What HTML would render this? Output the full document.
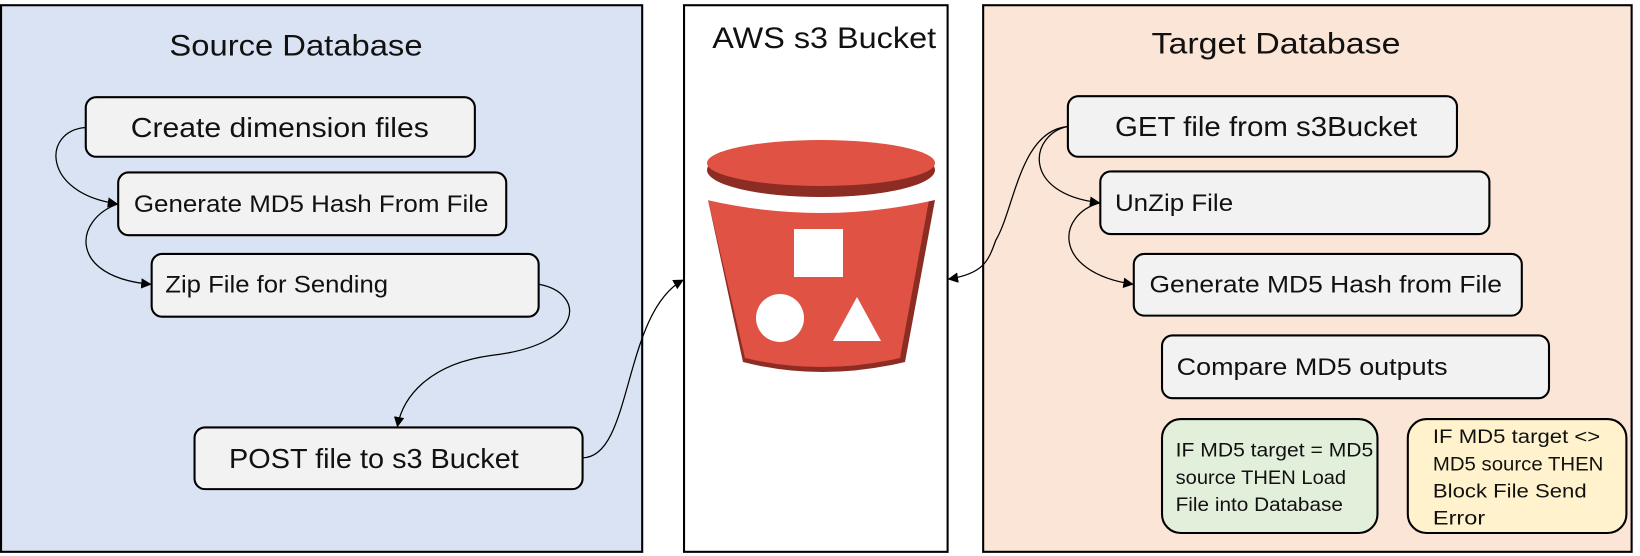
<!DOCTYPE html>
<html><head><meta charset="utf-8"><style>
html,body{margin:0;padding:0;background:#fff;}
svg{display:block;}
text{font-family:"Liberation Sans","DejaVu Sans",sans-serif;fill:#111;}
</style></head><body>
<svg width="1640" height="556" viewBox="0 0 1568 532" preserveAspectRatio="none" xmlns="http://www.w3.org/2000/svg">
<defs>
<marker id="a" markerWidth="10" markerHeight="10" refX="9" refY="5" orient="auto" markerUnits="userSpaceOnUse">
<path d="M0,0 L10,5 L0,10 z" fill="#000"/></marker>
</defs>
<rect x="1" y="5" width="613" height="523" fill="#dae3f3" stroke="#000" stroke-width="2"/>
<rect x="654" y="5" width="252" height="523" fill="#fff" stroke="#000" stroke-width="2"/>
<rect x="940" y="5" width="620" height="523" fill="#fbe5d6" stroke="#000" stroke-width="2"/>
<text x="283" y="53" font-size="28" text-anchor="middle" textLength="242" lengthAdjust="spacingAndGlyphs">Source Database</text>
<text x="788" y="46" font-size="28" text-anchor="middle" textLength="214" lengthAdjust="spacingAndGlyphs">AWS s3 Bucket</text>
<text x="1220" y="51" font-size="28" text-anchor="middle" textLength="238" lengthAdjust="spacingAndGlyphs">Target Database</text>

<g fill="#f2f2f2" stroke="#000" stroke-width="2">
<rect x="82" y="93" width="372" height="57" rx="10"/>
<rect x="113" y="165" width="371" height="60" rx="10"/>
<rect x="145" y="243" width="370" height="60" rx="10"/>
<rect x="186" y="409" width="371" height="59" rx="10"/>
<rect x="1021" y="92" width="372" height="58" rx="10"/>
<rect x="1052" y="164" width="372" height="60" rx="10"/>
<rect x="1084" y="243" width="371" height="59" rx="10"/>
<rect x="1111" y="321" width="370" height="60" rx="10"/>
</g>
<rect x="1111" y="401" width="206" height="109" rx="18" fill="#e2efda" stroke="#000" stroke-width="2"/>
<rect x="1346" y="401" width="209" height="109" rx="18" fill="#fff2cc" stroke="#000" stroke-width="2"/>

<g lengthAdjust="spacingAndGlyphs">
<text x="125" y="131" font-size="27" textLength="285" lengthAdjust="spacingAndGlyphs">Create dimension files</text>
<text x="128" y="203" font-size="23" textLength="339" lengthAdjust="spacingAndGlyphs">Generate MD5 Hash From File</text>
<text x="158" y="280" font-size="23" textLength="213" lengthAdjust="spacingAndGlyphs">Zip File for Sending</text>
<text x="219" y="448" font-size="27" textLength="277" lengthAdjust="spacingAndGlyphs">POST file to s3 Bucket</text>
<text x="1066" y="130" font-size="27" textLength="289" lengthAdjust="spacingAndGlyphs">GET file from s3Bucket</text>
<text x="1066" y="202" font-size="23" textLength="113" lengthAdjust="spacingAndGlyphs">UnZip File</text>
<text x="1099" y="280" font-size="23" textLength="337" lengthAdjust="spacingAndGlyphs">Generate MD5 Hash from File</text>
<text x="1125" y="359" font-size="23" textLength="259" lengthAdjust="spacingAndGlyphs">Compare MD5 outputs</text>
</g>
<g font-size="19">
<text x="1124" y="437" textLength="189" lengthAdjust="spacingAndGlyphs">IF MD5 target = MD5</text>
<text x="1124" y="463" textLength="163" lengthAdjust="spacingAndGlyphs">source THEN Load</text>
<text x="1124" y="489" textLength="160" lengthAdjust="spacingAndGlyphs">File into Database</text>
<text x="1370" y="424" textLength="160" lengthAdjust="spacingAndGlyphs">IF MD5 target &lt;&gt;</text>
<text x="1370" y="450" textLength="163" lengthAdjust="spacingAndGlyphs">MD5 source THEN</text>
<text x="1370" y="476" textLength="147" lengthAdjust="spacingAndGlyphs">Block File Send</text>
<text x="1370" y="502" textLength="50" lengthAdjust="spacingAndGlyphs">Error</text>
</g>

<g fill="none" stroke="#000" stroke-width="1.2" marker-end="url(#a)">
<path d="M82,122 C40,125 40,185 112,195"/>
<path d="M113,195 C70,210 65,265 144,272"/>
<path d="M515,272 C560,280 560,330 470,340 C410,348 385,380 380,408"/>
<path d="M557,438 C605,438 595,300 653,268"/>
<path d="M1021,121 C975,125 970,200 952,230 C945,250 940,262 907,267"/>
<path d="M1021,121 C985,128 975,185 1051,194"/>
<path d="M1052,194 C1010,205 1005,260 1083,272"/>
</g>

<g transform="scale(0.95610 0.95683)">
<path d="M708,200 L935,200 L905,362 Q821,382 743,362 Z" fill="#8c2c23"/>
<path d="M708,200 L929,200 L900,358 Q821,376 745,358 Z" fill="#e05243"/>
<path d="M707,186 Q821,212 935,186 L935,200 Q821,226 707,200 Z" fill="#fff"/>
<ellipse cx="821" cy="170" rx="114" ry="27" fill="#8c2c23"/>
<ellipse cx="821" cy="163" rx="114" ry="23" fill="#e05243"/>
<rect x="794" y="229" width="49" height="48" fill="#fff"/>
<circle cx="780" cy="318" r="24" fill="#fff"/>
<path d="M857,297 L881,341 L833,341 Z" fill="#fff"/>
</g>
</svg>
</body></html>
